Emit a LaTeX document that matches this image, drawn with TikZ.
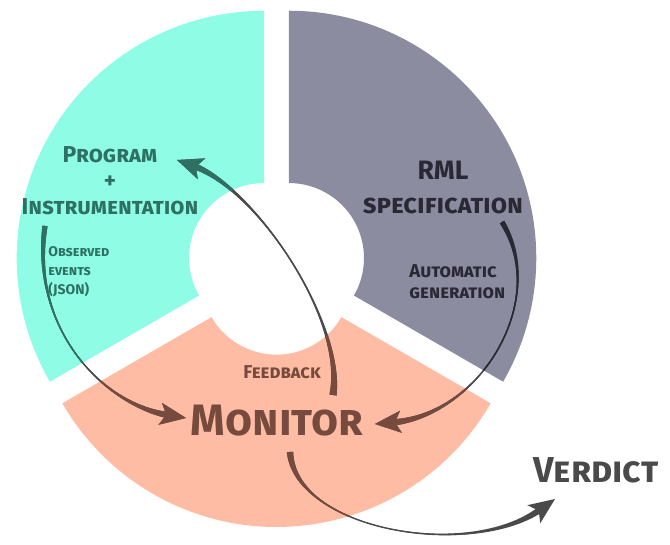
\documentclass[tikz,border=0pt]{standalone}
\usepackage{fontspec}
\setmainfont{Fira Sans}
\usetikzlibrary{calc,arrows.meta}
\definecolor{tealfill}{HTML}{8FFDE6}
\definecolor{grayfill}{HTML}{8C8CA0}
\definecolor{salmonfill}{HTML}{FEBCA5}
\definecolor{tealink}{HTML}{2E7062}
\definecolor{grayink}{HTML}{292935}
\definecolor{brownink}{HTML}{764B3D}
\definecolor{plainink}{HTML}{4A4A4A}
% apex, start angle, end angle
\newcommand\sectorpath[3]{($(#1)+(#2:37.5pt)$) arc[start angle=#2, end angle=#3, radius=37.5pt] -- ($(#1)+(#3:123.65pt)$) arc[start angle=#3, end angle=#2, radius=123.65pt] -- cycle}
% start, control 1, control 2, tip, half width at start, half width at end, colour
\newcommand\brushstroke[7]{%
  \path ($(#4)!9pt!(#3)$) coordinate (bEnd);
  \fill[#7] ($(#1)!#5!90:(#2)$) .. controls (#2) and (#3) .. ($(bEnd)!#6!-90:(#3)$)
     -- ($(bEnd)!#6!90:(#3)$) .. controls (#3) and (#2) .. ($(#1)!#5!-90:(#2)$) -- cycle;
  \draw[#7, line width=0.7pt, -{Stealth[length=13pt,width=11pt,inset=3pt]}] (#1) .. controls (#2) and (#3) .. (#4);
}
\newcommand\allbrushes[1]{%
  \brushstroke{fbA}{fbC1}{fbC2}{fbT}{1.8pt}{1.6pt}{#1}
  \brushstroke{obA}{obC1}{obC2}{obT}{1.3pt}{1.6pt}{#1}
  \brushstroke{agA}{agC1}{agC2}{agT}{1.3pt}{1.6pt}{#1}
  \brushstroke{vdA}{vdC1}{vdC2}{vdT}{1.6pt}{1.6pt}{#1}
}
\tikzset{lbl/.style={inner sep=0pt}}
\begin{document}
\begin{tikzpicture}[x=0.5pt,y=0.5pt]
\useasboundingbox (0,0) rectangle (670,545);
% sector apexes
\coordinate (tapex) at (264.03,286.95);
\coordinate (gapex) at (288.97,286.95);
\coordinate (sapex) at (276.5,265.35);
\fill[tealfill] \sectorpath{tapex}{90}{210};
\fill[grayfill] \sectorpath{gapex}{-30}{90};
\fill[salmonfill] \sectorpath{sapex}{210}{330};
% connector points
\coordinate (fbA) at (333,150); \coordinate (fbC1) at (345,225); \coordinate (fbC2) at (255,357); \coordinate (fbT) at (177,385);
\coordinate (obA) at (45,319); \coordinate (obC1) at (30,215); \coordinate (obC2) at (105,140); \coordinate (obT) at (186,127);
\coordinate (agA) at (502,323); \coordinate (agC1) at (550,245); \coordinate (agC2) at (480,130); \coordinate (agT) at (375,121);
\coordinate (vdA) at (290,93); \coordinate (vdC1) at (295,15); \coordinate (vdC2) at (470,-15); \coordinate (vdT) at (555,46);
\allbrushes{plainink}
\begin{scope}\clip \sectorpath{tapex}{90}{210}; \allbrushes{tealink}\end{scope}
\begin{scope}\clip \sectorpath{gapex}{-30}{90}; \allbrushes{grayink}\end{scope}
\begin{scope}\clip \sectorpath{sapex}{210}{330}; \allbrushes{brownink}\end{scope}
% labels
\node[lbl, text=tealink, align=center, font=\bfseries\scshape\fontsize{11.5}{13}\selectfont] (prog) at (110,364) {Program\\+\\Instrumentation};
\node[lbl, text=grayink, align=center, font=\bfseries\scshape\fontsize{13.3}{17}\selectfont] (rml) at (443,358) {RML\\specification};
\node[lbl, text=tealink, align=left, anchor=west, font=\bfseries\scshape\fontsize{7}{9.5}\selectfont] (obs) at (48,273) {Observed\\events\\(JSON)};
\node[lbl, text=grayink, align=left, anchor=west, font=\bfseries\scshape\fontsize{9.3}{10.5}\selectfont] (auto) at (409,263) {Automatic\\generation};
\node[lbl, text=brownink, font=\bfseries\scshape\fontsize{9.3}{10}\selectfont] (fb) at (282,173) {Feedback};
\node[lbl, text=brownink, font=\bfseries\scshape\fontsize{22}{24}\selectfont] (mon) at (277,124) {Monitor};
\node[lbl, text=plainink, font=\bfseries\scshape\fontsize{18}{20}\selectfont] (ver) at (596,75) {Verdict};
\end{tikzpicture}
\end{document}
